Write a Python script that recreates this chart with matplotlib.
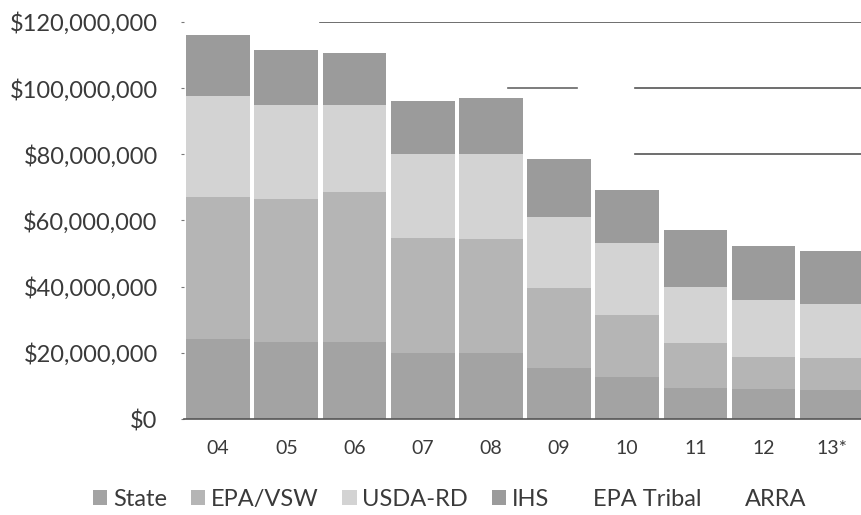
import matplotlib
matplotlib.use('Agg')
import matplotlib.pyplot as plt
import numpy as np
from matplotlib.ticker import FuncFormatter

plt.rcParams['font.family'] = ['Lato', 'DejaVu Sans']

years = ['04', '05', '06', '07', '08', '09', '10', '11', '12', '13*']
series = ['State', 'EPA/VSW', 'USDA-RD', 'IHS', 'EPA Tribal', 'ARRA']

# values in millions of dollars
state = [24.2, 23.3, 23.3, 20.0, 20.0, 15.5, 12.7, 9.4, 9.1, 8.8]
epa_vsw = [42.8, 43.1, 45.2, 34.8, 34.5, 24.2, 18.8, 13.6, 9.7, 9.7]
usda_rd = [30.6, 28.4, 26.3, 25.2, 25.5, 21.5, 21.8, 17.0, 17.3, 16.3]
ihs = [18.5, 16.7, 15.8, 16.1, 17.0, 17.3, 15.8, 17.0, 16.3, 16.1]
epa_tribal = [0, 0, 0, 0, 0, 0, 0, 0, 0, 0]
arra = [0, 0, 0, 0, 0, 0, 0, 0, 0, 0]

colors = ['#a3a3a3', '#b5b5b5', '#d3d3d3', '#9b9b9b', '#ffffff', '#ffffff']

fig = plt.figure(figsize=(8.62, 5.15), dpi=100)
ax = fig.add_axes([0.2135, 0.1864, 0.791, 0.771])

x = np.arange(len(years))
bottom = np.zeros(len(years))
for name, vals, c in zip(series, [state, epa_vsw, usda_rd, ihs, epa_tribal, arra], colors):
    v = np.array(vals) * 1e6
    ax.bar(x, v, 0.935, bottom=bottom, color=c, label=name, zorder=2)
    bottom += v

ax.set_xlim(-0.5, len(years) - 0.5)
ax.set_ylim(0, 120e6)
ax.set_yticks(np.arange(0, 120e6 + 1, 20e6))
ax.yaxis.set_major_formatter(FuncFormatter(lambda v, p: '${:,.0f}'.format(v)))
ax.set_xticks(x)
ax.set_xticklabels(years)

# partly visible dark gridlines in the scan
ax.axhline(120e6, 0.2, 1.0, color='#555555', linewidth=1.2, zorder=1)
ax.axhline(100e6, 0.475, 0.576, color='#666666', linewidth=1.2, zorder=1)
ax.axhline(100e6, 0.661, 1.0, color='#555555', linewidth=1.2, zorder=1)
ax.axhline(80e6, 0.661, 1.0, color='#555555', linewidth=1.2, zorder=1)

for s in ['top', 'right', 'left']:
    ax.spines[s].set_visible(False)
ax.spines['bottom'].set_color('#555555')
ax.spines['bottom'].set_linewidth(1.2)
ax.spines['bottom'].set_zorder(3)

ax.tick_params(axis='y', length=2, color='#777777', labelsize=17, labelcolor='#3a3a3a', pad=17)
ax.tick_params(axis='x', length=0, labelsize=14, labelcolor='#3a3a3a', pad=15)

handles, labels = ax.get_legend_handles_labels()
fig.legend(handles, labels, loc='center', bbox_to_anchor=(0.522, 0.03), ncol=6,
           frameon=False, fontsize=17, handlelength=0.6, handleheight=0.6,
           handletextpad=0.25, columnspacing=1.0, labelcolor='#3a3a3a')

fig.savefig('out.png', dpi=100, facecolor='white')
